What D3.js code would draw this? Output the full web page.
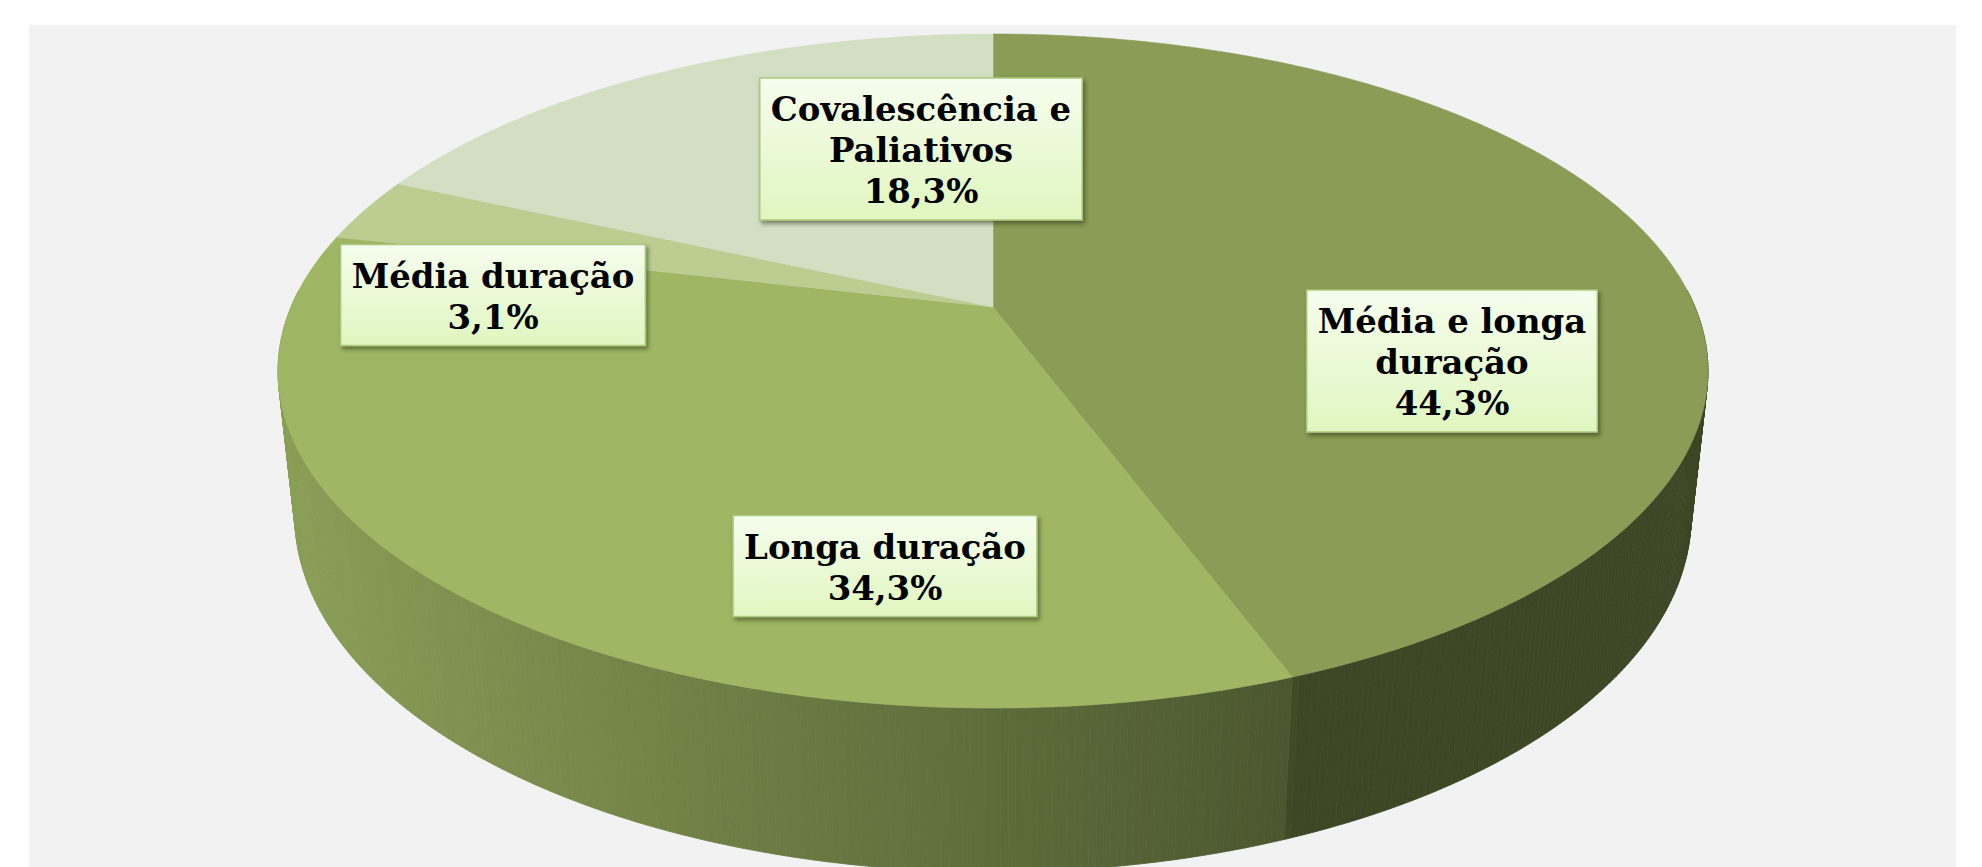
<!DOCTYPE html>
<html>
<head>
<meta charset="utf-8">
<script src="https://cdn.jsdelivr.net/npm/d3@7"></script>
<style>
  html, body { margin: 0; padding: 0; background: #ffffff; }
  svg { display: block; }
</style>
</head>
<body>
<div id="chart"></div>
<script>
// ---------------- data ----------------
const categories = ["Média e longa duração", "Longa duração", "Média duração", "Covalescência e Paliativos"];
const values = [44.3, 34.3, 3.1, 18.3];
const labelNameLines = [["Média e longa", "duração"], ["Longa duração"], ["Média duração"], ["Covalescência e", "Paliativos"]];
const topColors = ["#8a9c55", "#9fb764", "#bccd92", "#d3dfc3"];

// ---------------- layout ----------------
const W = 1982, H = 867;
const cx0 = 993, cy0 = 307;          // projected pie centre
const sa = 0.4628, ca = Math.sqrt(1 - sa * sa); // camera elevation
const D = 4.667, F = 3276, depthH = 0.2345; // camera distance, focal, slice thickness
const labelCenters = [[1452, 361], [885, 566], [493, 295], [921, 149]];

const svg = d3.select("#chart").append("svg").attr("width", W).attr("height", H);
svg.append("rect").attr("x", 29).attr("y", 25).attr("width", 1927).attr("height", H - 25).attr("fill", "#f2f2f2");

const defs = svg.append("defs");
const grad = defs.append("linearGradient").attr("id", "lblGrad").attr("x1", 0).attr("y1", 0).attr("x2", 0).attr("y2", 1);
grad.append("stop").attr("offset", "0%").attr("stop-color", "#f5fded");
grad.append("stop").attr("offset", "100%").attr("stop-color", "#e0f6c0");
const flt = defs.append("filter").attr("id", "shadow").attr("x", "-10%").attr("y", "-10%").attr("width", "125%").attr("height", "135%");
flt.append("feDropShadow").attr("dx", 2).attr("dy", 3).attr("stdDeviation", 2.2).attr("flood-color", "#2a3314").attr("flood-opacity", 0.55);

function proj(theta, r, z) {
  const x = r * Math.cos(theta), y = r * Math.sin(theta);
  const depth = D + y * ca - z * sa;
  const up = y * sa + z * ca;
  return [cx0 + F * x / depth, cy0 - F * up / depth];
}

const arcs = d3.pie().sort(null).value(d => d).startAngle(0).endAngle(2 * Math.PI)(values);
const toTheta = a => Math.PI / 2 - a;

// side brightness
const cLeft = Math.cos(-166 * Math.PI / 180), cRight = Math.cos(-69 * Math.PI / 180);
function bright(theta) {
  let t = (Math.cos(theta) - cLeft) / (cRight - cLeft);
  t = Math.max(0, t);
  let b = 0.87 - 0.40 * Math.pow(Math.min(t, 1), 1.15);
  if (t > 1) b = 0.45;
  return Math.max(0.44, b);
}
function shade(col, b) {
  const c = d3.rgb(col);
  return d3.rgb(c.r * b, c.g * b, c.b * b).formatHex();
}

// ---- side facets ----
const facets = [];
const step = 0.5 * Math.PI / 180;
arcs.forEach((a, i) => {
  const t0 = toTheta(a.startAngle), t1 = toTheta(a.endAngle);
  const n = Math.max(1, Math.ceil(Math.abs(t1 - t0) / step));
  for (let k = 0; k < n; k++) {
    const ta = t0 + (t1 - t0) * k / n, tb = t0 + (t1 - t0) * (k + 1) / n;
    const tm = (ta + tb) / 2;
    if (Math.sin(tm) > 0.05) continue;
    const facing = -1 - D * ca * Math.sin(tm);
    const pts = [proj(ta, 1, 0), proj(tb, 1, 0), proj(tb, 1, -depthH), proj(ta, 1, -depthH)];
    facets.push({ pts, facing, color: shade(topColors[i], bright(tm)) });
  }
});
facets.sort((p, q) => p.facing - q.facing);
const sideG = svg.append("g");
sideG.selectAll("path").data(facets).join("path")
  .attr("d", f => "M" + f.pts.map(p => p[0].toFixed(2) + "," + p[1].toFixed(2)).join("L") + "Z")
  .attr("fill", f => f.color)
  .attr("stroke", f => f.color)
  .attr("stroke-width", 0.8);

// ---- top faces ----
const topG = svg.append("g");
topG.selectAll("path").data(arcs).join("path")
  .attr("d", a => {
    const t0 = toTheta(a.startAngle), t1 = toTheta(a.endAngle);
    const n = Math.max(2, Math.ceil(Math.abs(t1 - t0) / step));
    const c = proj(0, 0, 0);
    let d = "M" + c[0] + "," + c[1];
    for (let k = 0; k <= n; k++) {
      const p = proj(t0 + (t1 - t0) * k / n, 1, 0);
      d += "L" + p[0].toFixed(2) + "," + p[1].toFixed(2);
    }
    return d + "Z";
  })
  .attr("fill", (a, i) => topColors[i])
  .attr("stroke", (a, i) => topColors[i])
  .attr("stroke-width", 0.6);

// ---- labels ----
const fmt = v => d3.format(".1f")(v).replace(".", ",") + "%";
const fontFamily = "'DejaVu Serif', 'Liberation Serif', serif";
const fontSize = 33;
// condense horizontally so the widest single line matches the reference width
const probe = svg.append("text").attr("font-family", fontFamily).attr("font-weight", "bold").attr("font-size", fontSize).text("Longa duração");
const probeW = probe.node().getComputedTextLength();
probe.remove();
const sx = 282 / probeW;
const lineH = 41;

const lblG = svg.append("g");
arcs.forEach((a, i) => {
  const lines = labelNameLines[i].concat([fmt(values[i])]);
  const [lx, ly] = labelCenters[i];
  const g = lblG.append("g").attr("transform", `translate(${lx},${ly})`);
  const rect = g.append("rect");
  const txt = g.append("text")
    .attr("transform", `scale(${sx},1)`)
    .attr("font-family", fontFamily).attr("font-weight", "bold").attr("font-size", fontSize)
    .attr("text-anchor", "middle").attr("fill", "#000");
  const nl = lines.length;
  let maxW = 0;
  lines.forEach((s, j) => {
    const ts = txt.append("tspan").attr("x", 0).attr("y", (j - (nl - 1) / 2) * lineH + fontSize * 0.40).text(s);
    maxW = Math.max(maxW, ts.node().getComputedTextLength() * sx);
  });
  const bw = maxW + 22, bh = nl * lineH + 19;
  rect.attr("x", -bw / 2).attr("y", -bh / 2).attr("width", bw).attr("height", bh)
    .attr("fill", "url(#lblGrad)").attr("stroke", "#abc97e").attr("stroke-width", 1.5)
    .attr("filter", "url(#shadow)");
});
</script>
</body>
</html>
